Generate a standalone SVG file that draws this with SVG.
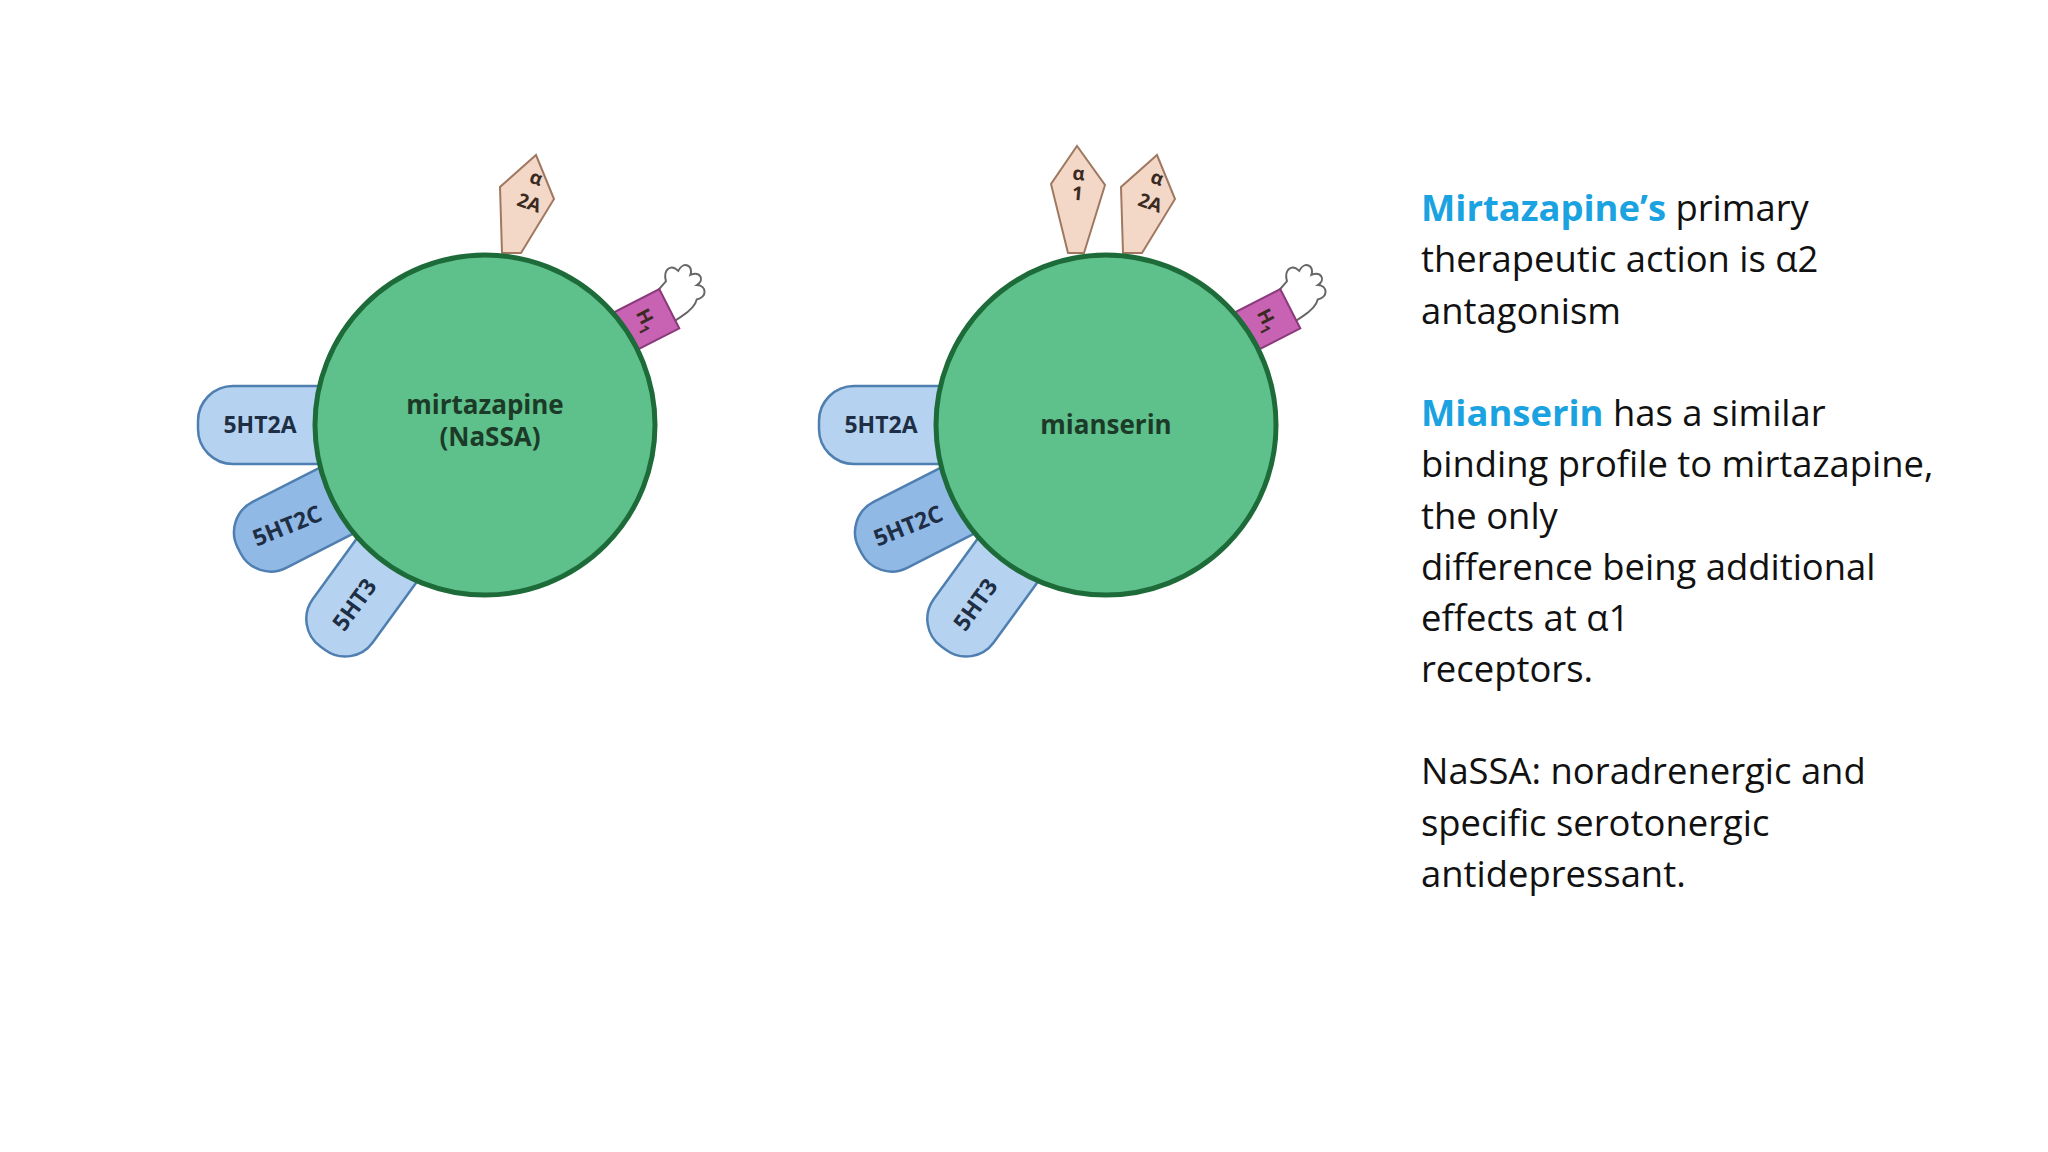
<svg xmlns="http://www.w3.org/2000/svg" width="2048" height="1152" viewBox="0 0 2048 1152">
<style>
.pill{stroke:#4f7fb0;stroke-width:2.5}
.p1{fill:#b5d3f0}.p2{fill:#91b9e6}
.pt{font-family:"Open Sans",sans-serif;font-weight:bold;font-size:23px;fill:#1e2e45;text-anchor:middle}
.core{fill:#5ec08a;stroke:#1e6b3a;stroke-width:5}
.ct{font-family:"Open Sans",sans-serif;font-weight:bold;font-size:26px;fill:#1c3a28;text-anchor:middle}
.al{fill:#f3d8c8;stroke:#a07860;stroke-width:2}
.at{font-family:"Open Sans",sans-serif;font-weight:bold;font-size:19px;fill:#3a2a22;text-anchor:middle}
.h1{fill:#c862b2;stroke:#8a3a7a;stroke-width:2}
.hand{fill:#fff;stroke:#666;stroke-width:2}
.tx{font-family:"Open Sans",sans-serif;font-size:36.4px;fill:#111}
.hl{fill:#1aa3e0;font-weight:bold}
</style>
<defs>
<g id="mol">
<g transform="rotate(-54)"><rect class="pill p1" x="-276" y="-37" width="180" height="74" rx="34"/><text class="pt" x="-222" y="8">5HT3</text></g>
<g transform="rotate(-27)"><rect class="pill p2" x="-276" y="-37" width="180" height="74" rx="34"/><text class="pt" transform="translate(-222,0) rotate(5)" y="8">5HT2C</text></g>
<g><rect class="pill p1" x="-287" y="-39" width="180" height="78" rx="35"/><text class="pt" x="-225" y="8">5HT2A</text></g>
<g transform="rotate(-33)">
<path class="hand" d="M216,-18 L230,-22 C234,-34 244,-34 246,-24 C256,-30 262,-20 254,-14 C264,-12 264,-2 254,-2 C262,4 256,14 246,10 C240,16 230,16 224,16 L216,16 Z"/>
<rect class="h1" x="164" y="-22" width="54" height="44" transform="rotate(6,190,0)"/>
<text class="at" transform="translate(192,0) rotate(96)" y="6">H<tspan font-size="14" dy="5">1</tspan></text>
</g>
<circle class="core" cx="0" cy="0" r="170"/>
</g>
<g id="a2a">
<path class="al" d="M502,253 L500,187 L536,155 L554,199 L521,253 Z"/>
<text class="at" transform="translate(534,184) rotate(20)">α</text>
<text class="at" transform="translate(527,209) rotate(20)">2A</text>
</g>
</defs>
<rect width="2048" height="1152" fill="#fff"/>
<g id="mirtazapine">
<use href="#a2a"/>
<use href="#mol" transform="translate(485,425)"/>
<text class="ct" x="485" y="414">mirtazapine</text>
<text class="ct" x="490" y="446">(NaSSA)</text>
</g>
<g id="mianserin">
<path class="al" d="M1068,253 L1051,184 L1077,146 L1105,185 L1084,253 Z"/>
<text class="at" transform="translate(1078,180) rotate(5)">α</text>
<text class="at" transform="translate(1077,200) rotate(5)">1</text>
<use href="#a2a" transform="translate(621,0)"/>
<use href="#mol" transform="translate(1106,425)"/>
<text class="ct" x="1106" y="434">mianserin</text>
</g>
<g id="notes" class="tx">
<text x="1421" y="221"><tspan class="hl">Mirtazapine’s</tspan> primary</text>
<text x="1421" y="272">therapeutic action is α2</text>
<text x="1421" y="324">antagonism</text>
<text x="1421" y="426"><tspan class="hl">Mianserin</tspan> has a similar</text>
<text x="1421" y="477">binding profile to mirtazapine,</text>
<text x="1421" y="529">the only</text>
<text x="1421" y="580">difference being additional</text>
<text x="1421" y="631">effects at α1</text>
<text x="1421" y="682">receptors.</text>
<text x="1421" y="784">NaSSA: noradrenergic and</text>
<text x="1421" y="836">specific serotonergic</text>
<text x="1421" y="887">antidepressant.</text>
</g>
<g id="connectors"/>
</svg>
